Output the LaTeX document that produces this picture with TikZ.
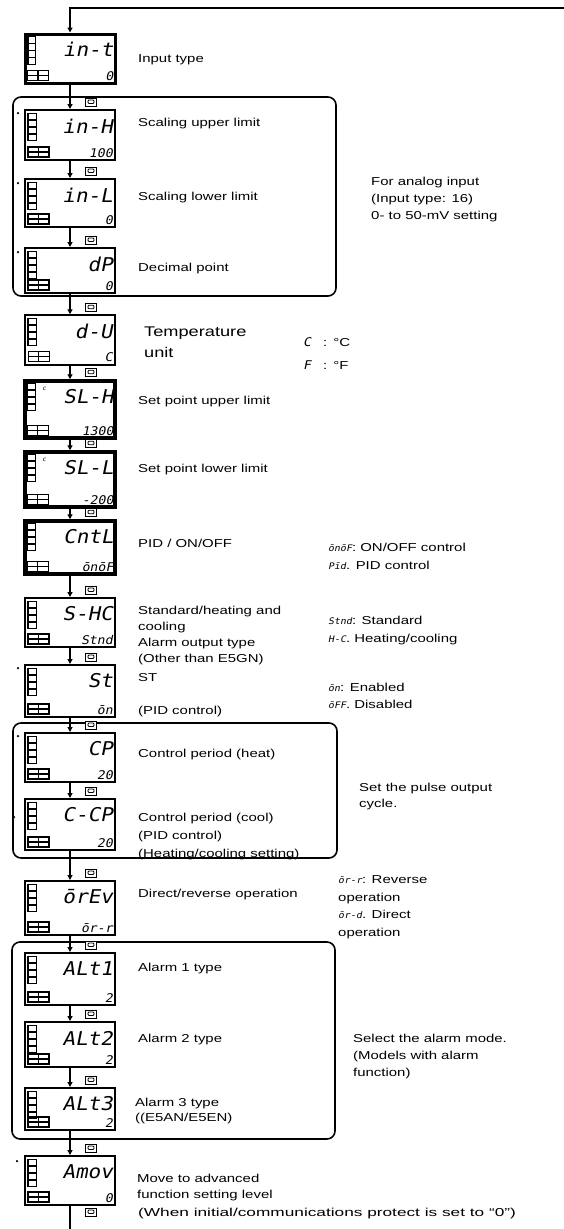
\documentclass[tikz,border=0pt]{standalone}
\usepackage{fontspec}
\setmainfont{Liberation Sans}[FakeStretch=1.3]
\newfontfamily\widef{Liberation Sans}[FakeStretch=1.5]
\newfontfamily\segf{DejaVu Sans Mono}[FakeStretch=1.1,FakeSlant=0.2]
\usetikzlibrary{arrows.meta,calc}
\newcommand\lblf{\fontsize{11.5}{16.5}\selectfont}
\newcommand\sseg{\segf\fontsize{9}{9}\selectfont}
\tikzset{
  dispbox/.style={draw, rectangle, minimum width=90pt, inner sep=0pt, fill=white},
  flow/.style={line width=1.5pt, -{Triangle[length=5pt,width=5pt]}},
  keyic/.style={draw, rectangle, line width=0.9pt, minimum width=11pt, minimum height=8pt, inner sep=0pt, fill=white,
    path picture={\draw[line width=0.9pt, rounded corners=1pt] ($(path picture bounding box.center)+(-3,-2)$) rectangle ($(path picture bounding box.center)+(3,1.5)$);}},
  grp/.style={draw, line width=1.6pt, rounded corners=8pt},
  lbl/.style={anchor=base west, inner sep=0pt, align=left, font=\lblf},
  star/.style={circle, fill=black, inner sep=0pt, minimum size=2.5pt},
  segtop/.style={anchor=east, inner sep=0pt, font=\segf\fontsize{19}{19}\selectfont},
  segbot/.style={anchor=base east, inner sep=0pt, font=\segf\fontsize{12}{12}\selectfont},
}
% #1 name, #2 top, #3 bottom, #4 top text, #5 value, #6 border width
\newcommand\disp[6]{%
  \node[dispbox, line width=#6pt, minimum height={#3-#2}] (#1) at (70,{(#2+#3)/2}) {};
  \foreach \r in {0,1,2,3}{
    \draw[line width=1pt, fill=white] ([shift={(4,{4+7*\r})}]#1.north west) rectangle ++(8,6.5);}
  \draw[line width=2pt] ([shift={(4,4)}]#1.north west) -- ++(0,28);
  \draw[line width=1.4pt] ([shift={(4,-14)}]#1.south west) rectangle ([shift={(25,-4)}]#1.south west);
  \draw[line width=1.4pt] ([shift={(14.5,-14)}]#1.south west) -- ++(0,10);
  \draw[line width=1.4pt] ([shift={(4,-9)}]#1.south west) -- ++(21,0);
  \node[segtop] (#1t) at ([shift={(-3,17)}]#1.north east) {#4};
  \node[segbot] (#1v) at ([shift={(-3,-4)}]#1.south east) {#5};
}
\begin{document}
\begin{tikzpicture}[x=1pt,y=-1pt]
\useasboundingbox (0,0) rectangle (564,1229);
\fill[white] (0,0) rectangle (564,1229);

% groups
\draw[grp] (13,97) rectangle (336,296);
\draw[grp] (13,723) rectangle (337,858);
\draw[grp] (12,942) rectangle (335,1139);

% displays
\disp{b1}{34}{83}{in-t}{0}{3}
\disp{b2}{110}{160}{in-H}{100}{2}
\disp{b3}{179}{227}{in-L}{0}{2}
\disp{b4}{248}{293}{dP}{0}{2}
\disp{b5}{315}{365}{d-U}{C}{1.5}
\disp{b6}{381}{438}{SL-H}{1300}{3.5}
\disp{b7}{452}{507}{SL-L}{-200}{3.5}
\disp{b8}{521}{574}{CntL}{ōnōF}{3.5}
\disp{b9}{598}{647}{S-HC}{Stnd}{2}
\disp{b10}{665}{717}{St}{ōn}{2}
\disp{b11}{733}{782}{CP}{20}{2}
\disp{b12}{799}{850}{C-CP}{20}{2}
\disp{b13}{881}{935}{ōrEv}{ōr-r}{2}
\disp{b14}{953}{1005}{ALt1}{2}{2}
\disp{b15}{1022}{1067}{ALt2}{2}{2}
\disp{b16}{1088}{1130}{ALt3}{2}{2}
\disp{b17}{1156}{1205}{Amov}{0}{2}

\node[inner sep=0pt, font=\segf\fontsize{6}{6}\selectfont] (c6) at (44,389) {c};
\node[inner sep=0pt, font=\segf\fontsize{6}{6}\selectfont] (c7) at (44,460) {c};

% feedback line
\coordinate (topR) at (564,8);
\coordinate (topL) at (70,8);
\draw[flow, line width=2pt] (topR) -- (topL) -- (b1.north);

% flow arrows
\foreach \a/\b in {b1/b2,b2/b3,b3/b4,b4/b5,b5/b6,b6/b7,b7/b8,b8/b9,b9/b10,b10/b11,b11/b12,b12/b13,b13/b14,b14/b15,b15/b16,b16/b17}{
  \draw[flow] (\a.south) -- (\b.north);
  \node[keyic] (\b k) at ($(\b.north)+(21,-7)$) {};
}
\coordinate (bot) at (70,1229);
\draw[line width=1.5pt] (b17.south) -- (bot);
\node[keyic] (kend) at (91,1212) {};

% marks
\node[star] (s2) at (18,113) {};
\node[star] (s3) at (18,183) {};
\node[star] (s4) at (18,252) {};
\node[star] (s10) at (18,668) {};
\node[star] (s11) at (18,736) {};
\node[star] (s12) at (14,817) {};
\node[star] (s17) at (17,1161) {};

% labels (base = baseline of the last line)
\node[lbl] (l1) at (138,62) {Input type};
\node[lbl] (l2) at (138,126) {Scaling upper limit};
\node[lbl] (l3) at (138,200) {Scaling lower limit};
\node[lbl] (l4) at (138,271) {Decimal point};
\node[lbl, font=\fontsize{14}{21}\selectfont] (l5) at (144,357) {Temperature\\unit};
\node[lbl] (l6) at (138,404) {Set point upper limit};
\node[lbl] (l7) at (138,472) {Set point lower limit};
\node[lbl] (l8) at (138,547) {PID / ON/OFF};
\node[lbl, font=\fontsize{11.5}{16}\selectfont] (l9) at (138,662) {Standard/heating and\\cooling\\Alarm output type\\(Other than E5GN)};
\node[lbl] (l10) at (138,681) {ST};
\node[lbl] (l11) at (138,714) {(PID control)};
\node[lbl] (l12) at (138,757) {Control period (heat)};
\node[lbl, font=\fontsize{11.5}{18}\selectfont] (l13) at (138,857) {Control period (cool)\\(PID control)\\(Heating/cooling setting)};
\node[lbl] (l14) at (138,897) {Direct/reverse operation};
\node[lbl] (l15) at (138,971) {Alarm 1 type};
\node[lbl] (l16) at (138,1042) {Alarm 2 type};
\node[lbl, font=\fontsize{11.5}{15}\selectfont] (l17) at (135,1121) {Alarm 3 type\\((E5AN/E5EN)};
\node[lbl, font=\fontsize{11.5}{16}\selectfont] (l18) at (137,1198) {Move to advanced\\function setting level};
\node[lbl, font=\widef\fontsize{11.5}{16}\selectfont] (l19) at (138,1216) {(When initial/communications protect is set to “0”)};

% notes
\node[lbl, font=\fontsize{11.5}{17}\selectfont] (n1) at (371,219) {For analog input\\(Input type: 16)\\0- to 50-mV setting};
\node[lbl] (nc) at (303,346) {{\segf\fontsize{12}{12}\selectfont C}\hspace{12pt}:\hspace{6pt}°C};
\node[lbl] (nf) at (303,369) {{\segf\fontsize{12}{12}\selectfont F}\hspace{12pt}:\hspace{6pt}°F};
\node[lbl, font=\fontsize{11.5}{18}\selectfont] (n4) at (328,569) {{\sseg ōnōF}: ON/OFF control\\{\sseg Pīd}. PID control};
\node[lbl, font=\fontsize{11.5}{18}\selectfont] (n5) at (328,642) {{\sseg Stnd}: Standard\\{\sseg H-C}. Heating/cooling};
\node[lbl, font=\fontsize{11.5}{17}\selectfont] (n6) at (328,708) {{\sseg ōn}: Enabled\\{\sseg ōFF}. Disabled};
\node[lbl, font=\fontsize{11.5}{16}\selectfont] (n2) at (359,807) {Set the pulse output\\cycle.};
\node[lbl, font=\fontsize{11.5}{17.5}\selectfont] (n7) at (338,936) {{\sseg ōr-r}: Reverse\\operation\\{\sseg ōr-d}. Direct\\operation};
\node[lbl, font=\fontsize{11.5}{17}\selectfont] (n3) at (353,1076) {Select the alarm mode.\\(Models with alarm\\function)};
\end{tikzpicture}
\end{document}
